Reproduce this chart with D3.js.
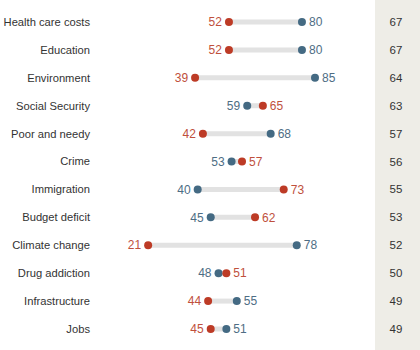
<!DOCTYPE html>
<html>
<head>
<meta charset="utf-8">
<script src="https://cdn.jsdelivr.net/npm/d3@7"></script>
<style>
  body { margin: 0; background: #fff; }
  svg { display: block; font-family: "Liberation Sans", Arial, sans-serif; }
</style>
</head>
<body>
<div id="chart"></div>
<script>
var categories = ["Health care costs", "Education", "Environment", "Social Security",
    "Poor and needy", "Crime", "Immigration", "Budget deficit", "Climate change",
    "Drug addiction", "Infrastructure", "Jobs"];
var repValues = [52, 52, 39, 65, 42, 57, 73, 62, 21, 51, 44, 45];
var demValues = [80, 80, 85, 59, 68, 53, 40, 45, 78, 48, 55, 51];
var totalValues = [67, 67, 64, 63, 57, 56, 55, 53, 52, 50, 49, 49];

function init() {
    const w = 420;
    const h = 350;

    var red = "#bd3b26", blue = "#446a83";
    var redText = "#c0503c", blueText = "#4e6d84";

    var data = categories.map(function (c, i) {
        return { cat: c, rep: repValues[i], dem: demValues[i], total: totalValues[i] };
    });

    var x = d3.scaleLinear().domain([0, 100]).range([93.4, 354.1]);
    var y = d3.scalePoint().domain(categories).range([22, 329]);

    var svg = d3.select("#chart")
        .append("svg")
        .attr("width", w)
        .attr("height", h);

    // shaded column for total
    svg.append("rect")
        .attr("x", 375).attr("y", 0)
        .attr("width", w - 375).attr("height", h)
        .attr("fill", "#eeede7");

    // header fragment cut off at the top
    svg.append("text")
        .attr("x", 90).attr("y", -2)
        .attr("text-anchor", "end")
        .attr("font-size", 11)
        .attr("fill", "#999")
        .text("Priority");

    var rows = svg.selectAll("g.row")
        .data(data)
        .enter()
        .append("g")
        .attr("class", "row")
        .attr("transform", function (d) { return "translate(0," + y(d.cat) + ")"; });

    // category labels
    rows.append("text")
        .attr("x", 90)
        .attr("dy", "0.35em")
        .attr("text-anchor", "end")
        .attr("font-size", 11.2)
        .attr("fill", "#333")
        .text(function (d) { return d.cat; });

    // connecting bar
    rows.append("line")
        .attr("x1", function (d) { return x(Math.min(d.rep, d.dem)); })
        .attr("x2", function (d) { return x(Math.max(d.rep, d.dem)); })
        .attr("stroke", "#e2e2e2")
        .attr("stroke-width", 5);

    // dots
    rows.append("circle")
        .attr("cx", function (d) { return x(d.dem); })
        .attr("r", 4)
        .attr("fill", blue);
    rows.append("circle")
        .attr("cx", function (d) { return x(d.rep); })
        .attr("r", 4)
        .attr("fill", red);

    // value labels
    function addLabel(key, color) {
        rows.append("text")
            .attr("x", function (d) {
                var other = key === "rep" ? d.dem : d.rep;
                return d[key] <= other ? x(d[key]) - 7 : x(d[key]) + 7;
            })
            .attr("dy", "0.35em")
            .attr("text-anchor", function (d) {
                var other = key === "rep" ? d.dem : d.rep;
                return d[key] <= other ? "end" : "start";
            })
            .attr("font-size", 12)
            .attr("fill", color)
            .text(function (d) { return d[key]; });
    }
    addLabel("rep", redText);
    addLabel("dem", blueText);

    // totals
    rows.append("text")
        .attr("x", 396)
        .attr("dy", "0.35em")
        .attr("text-anchor", "middle")
        .attr("font-size", 11.5)
        .attr("fill", "#333")
        .text(function (d) { return d.total; });
}
window.onload = init();
</script>
</body>
</html>
